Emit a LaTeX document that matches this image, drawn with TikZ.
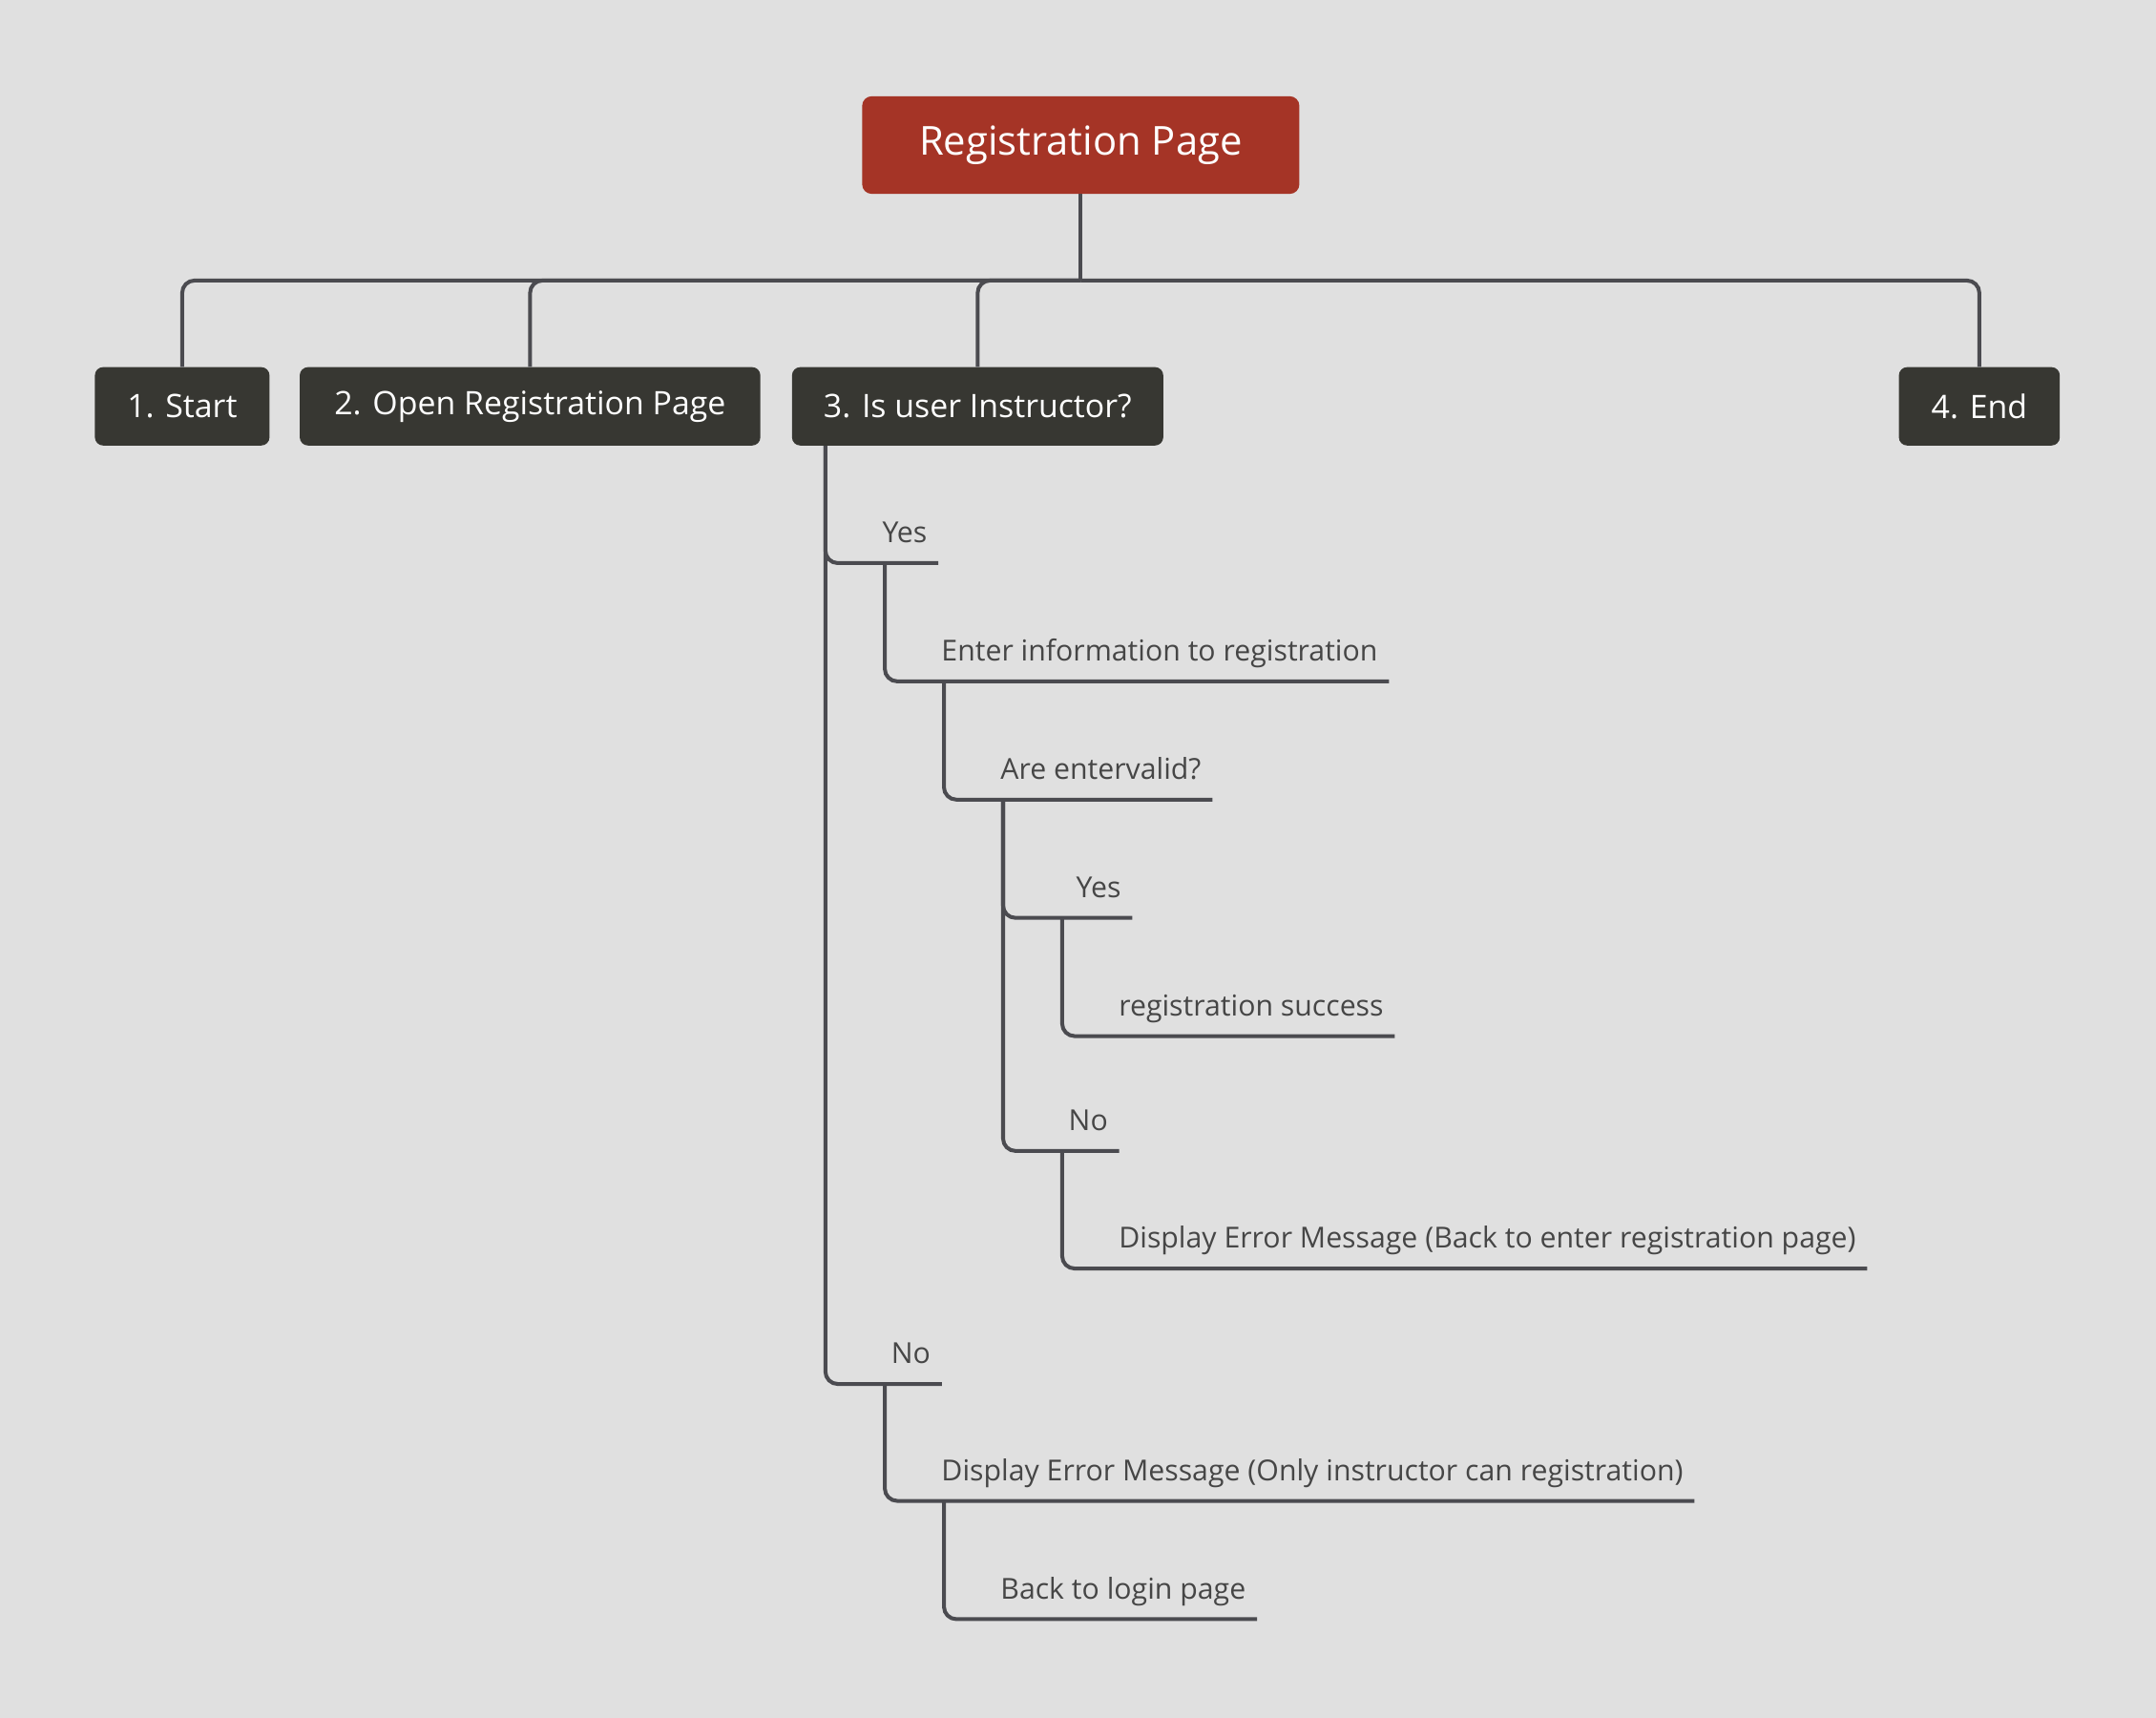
\documentclass[tikz,border=0pt]{standalone}
\usepackage{fontspec}
\setmainfont{Open Sans}
\usetikzlibrary{positioning}

\definecolor{pagebg}{HTML}{E0E0E0}
\definecolor{rootred}{HTML}{A53426}
\definecolor{topicgrey}{HTML}{373732}
\definecolor{linegrey}{HTML}{4B4B50}
\definecolor{leafgrey}{HTML}{464646}

\tikzset{
  rootbox/.style={fill=rootred, text=white, rounded corners=7pt,
    minimum width=318pt, minimum height=71pt, inner xsep=10pt,
    font=\fontsize{29}{33}\selectfont},
  topicbox/.style={fill=topicgrey, text=white, rounded corners=6pt,
    minimum height=57pt, inner xsep=10pt,
    font=\fontsize{23.5}{27}\selectfont},
  leaf/.style={anchor=south west, inner xsep=8pt, inner ysep=14.5pt,
    text depth=0pt, text=leafgrey, font=\fontsize{21}{25}\selectfont},
  bus/.style={draw=linegrey, line width=2.8pt},
  elbow/.style={bus, rounded corners=9pt}
}

\begin{document}
\begin{tikzpicture}[x=1pt,y=-1pt]
  \fill[pagebg] (0,0) rectangle (1568,1249.4);
  \useasboundingbox (0,0) rectangle (1568,1249.4);

  % root and the four steps
  \node[rootbox] (reg) at (786,105.5) {Registration Page};
  \node[topicbox, minimum width=127pt] (start) at (132.5,295.5) {1. Start};
  \node[topicbox, minimum width=335pt] (open) at (385.5,295.5) {2. Open Registration Page};
  \node[topicbox, minimum width=270pt] (instr) at (711,295.5) {3. Is user Instructor?};
  \node[topicbox, minimum width=117pt] (fin) at (1439.5,295.5) {4. End};

  \coordinate (busjoint) at (786,204);
  \draw[bus] (reg.south) -- (busjoint);
  \foreach \t in {start,open,instr,fin}
    \draw[elbow] (busjoint) -| (\t.north);

  % branches under step 3
  \node[leaf] (yesinstr) at (633.5,409.5) {Yes};
  \node[leaf] (enter) at (676.5,495.5) {Enter information to registration};
  \node[leaf] (valid) at (719.5,581.5) {Are entervalid?};
  \node[leaf] (yesvalid) at (762.5,667.5) {\hspace{12pt}Yes};
  \node[leaf] (success) at (805.5,753.5) {registration success};
  \node[leaf] (novalid) at (762.5,837) {\hspace{6.5pt}No};
  \node[leaf] (backreg) at (805.5,922.5) {Display Error Message (Back to enter registration page)};
  \node[leaf] (noinstr) at (633.5,1006.5) {\hspace{6.5pt}No};
  \node[leaf] (onlyinstr) at (676.5,1091.5) {Display Error Message (Only instructor can registration)};
  \node[leaf] (login) at (719.5,1177.5) {Back to login page};

  \draw[elbow] ([xshift=24.5pt]instr.south west) |- (yesinstr.south east);
  \draw[elbow] ([xshift=24.5pt]instr.south west) |- (noinstr.south east);
  \draw[elbow] ([xshift=10pt]yesinstr.south west) |- (enter.south east);
  \draw[elbow] ([xshift=10pt]enter.south west) |- (valid.south east);
  \draw[elbow] ([xshift=10pt]valid.south west) |- (yesvalid.south east);
  \draw[elbow] ([xshift=10pt]valid.south west) |- (novalid.south east);
  \draw[elbow] ([xshift=10pt]yesvalid.south west) |- (success.south east);
  \draw[elbow] ([xshift=10pt]novalid.south west) |- (backreg.south east);
  \draw[elbow] ([xshift=10pt]noinstr.south west) |- (onlyinstr.south east);
  \draw[elbow] ([xshift=10pt]onlyinstr.south west) |- (login.south east);
\end{tikzpicture}
\end{document}
